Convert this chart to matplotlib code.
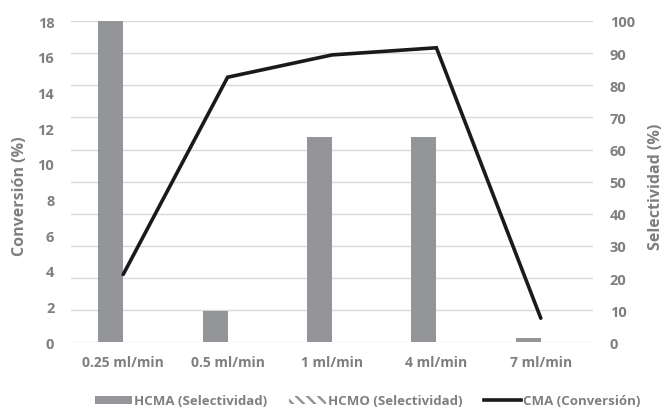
import matplotlib
matplotlib.use("Agg")
import matplotlib.pyplot as plt
import numpy as np
from matplotlib.patches import Patch
from matplotlib.lines import Line2D

categories = ["0.25 ml/min", "0.5 ml/min", "1 ml/min", "4 ml/min", "7 ml/min"]
hcma_selectividad = [100, 9.6, 63.9, 64.0, 1.3]
hcmo_selectividad = [0, 0, 0, 0, 0]
cma_conversion = [3.8, 14.85, 16.1, 16.5, 1.35]
left_ticks = [0, 2, 4, 6, 8, 10, 12, 14, 16, 18]
right_ticks = [0, 10, 20, 30, 40, 50, 60, 70, 80, 90, 100]

plt.rcParams['font.family'] = ['Open Sans', 'DejaVu Sans']
plt.rcParams['font.weight'] = 'bold'
plt.rcParams['axes.labelweight'] = 'bold'
plt.rcParams['hatch.color'] = '#939598'
plt.rcParams['hatch.linewidth'] = 1.8
txt = '#7f7f7f'
bar_c = '#939598'

fig = plt.figure(figsize=(6.65, 4.14), dpi=100)
ax = fig.add_axes([71/665, 1-343.3/414, (593-71)/665, (343.3-22)/414])
ax2 = ax.twinx()

x = np.arange(len(categories))
w = 0.24
ax2.bar(x - w/2, hcma_selectividad, width=w, color=bar_c, zorder=2)
ax2.bar(x + w/2, hcmo_selectividad, width=w, facecolor='white', edgecolor=bar_c,
        hatch='\\\\\\', linewidth=0, zorder=2)
ax.plot(x, cma_conversion, color='#1a1a1a', lw=2.6, solid_capstyle='round',
        solid_joinstyle='miter', zorder=5)

ax.set_zorder(ax2.get_zorder() + 1)
ax.patch.set_visible(False)

ax.set_xlim(-0.5, 4.5)
ax.set_ylim(0, 18)
ax2.set_ylim(0, 100)
ax.set_yticks(left_ticks)
ax2.set_yticks(right_ticks)
ax.set_xticks(x)
ax.set_xticklabels(categories)

for a in (ax, ax2):
    for s in a.spines.values():
        s.set_visible(False)
    a.tick_params(length=0, colors=txt, labelsize=10.5)
ax.tick_params(axis='x', labelsize=10, pad=9)
ax.tick_params(axis='y', pad=12)
ax2.tick_params(axis='y', pad=12)

ax2.yaxis.grid(True, color='#d9d9d9', lw=1.0, zorder=0)
ax2.set_axisbelow(True)

ax.set_ylabel("Conversión (%)", color=txt, fontsize=11.5, va='center')
ax2.set_ylabel("Selectividad (%)", color=txt, fontsize=11.5, va='center')
ax.yaxis.set_label_coords(-0.098, 0.458)
ax2.yaxis.set_label_coords(1.121, 0.488)

handles = [Patch(facecolor=bar_c, edgecolor='none'),
           Patch(facecolor='white', edgecolor=bar_c, hatch='\\\\\\', linewidth=0),
           Line2D([0], [0], color='#1a1a1a', lw=2.6)]
labels = ["HCMA (Selectividad)", "HCMO (Selectividad)", "CMA (Conversión)"]
leg = fig.legend(handles, labels, loc='center', bbox_to_anchor=(0.553, 1-402/414),
                 ncol=3, frameon=False, fontsize=9.5, handlelength=2.8,
                 handletextpad=0.2, columnspacing=1.6, handleheight=0.6)
for t in leg.get_texts():
    t.set_color(txt)

fig.savefig("out.png", dpi=100)
